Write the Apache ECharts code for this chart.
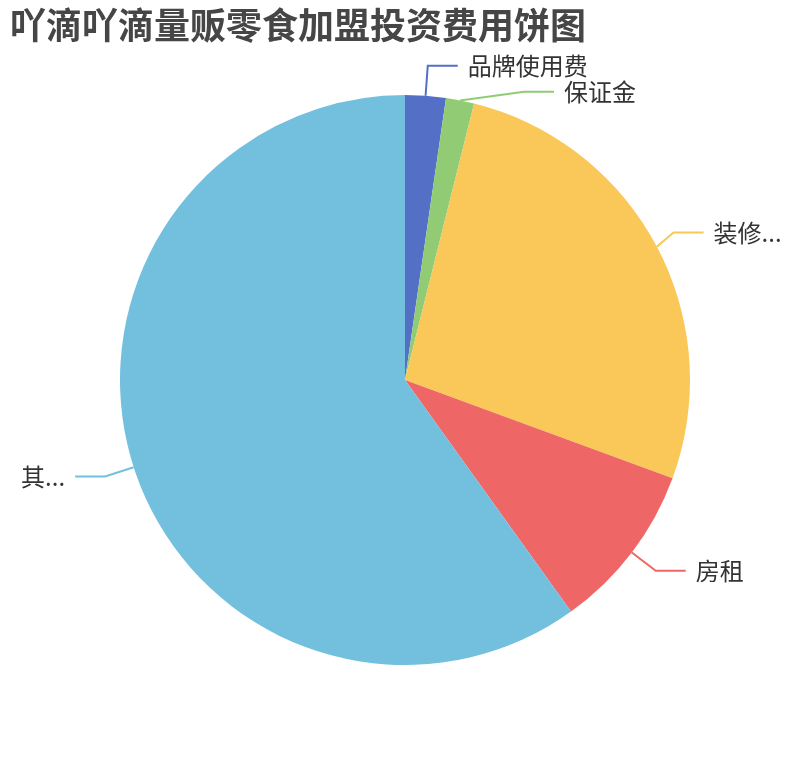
<!DOCTYPE html>
<html>
	<head>
		<title>饼图</title>
		<meta charset="utf-8"/>
		<style type="text/css">
			*{margin: 0;padding: 0;}
			html,body{height: 100%;background-color: #fff;}
			.charts{width: 810px;height: 760px;}
		</style>
		<script type="text/javascript" src="https://cdn.jsdelivr.net/npm/echarts@6/dist/echarts.min.js"></script>
	</head>
	<body>
		<div class="charts js-pie"></div>
		<script type="text/javascript">
			// 数据
			var names=["品牌使用费","保证金","装修及设备费用","房租","其他费用"];
			var values=[2.3,1.6,26.7,9.5,59.9];

			var pieChart=echarts.init(document.querySelector('.js-pie'));
			var sData=[];
			for(var i=0,len=names.length;i<len;i++){
				sData.push({name:names[i],value:values[i]});
			}
			var option={
				color:["#5470c6","#91cc75","#fac858","#ee6666","#73c0de"],
				textStyle:{fontFamily:"Noto Sans CJK SC"},
				title:{
					text:"吖滴吖滴量贩零食加盟投资费用饼图",
					left:5,
					top:2,
					textStyle:{
						fontSize:36,
						fontWeight:"bold",
						color:"#464646",
						fontFamily:"Noto Sans CJK SC"
					}
				},
				series:[{
					type:"pie",
					radius:"75%",
					center:["50%","50%"],
					data:sData,
					label:{
						fontSize:24,
						color:"#333",
						distanceToLabelLine:10
					},
					labelLine:{
						length:30,
						length2:30,
						lineStyle:{width:2}
					}
				}]
			};
			pieChart.setOption(option);
		</script>
	</body>
</html>
